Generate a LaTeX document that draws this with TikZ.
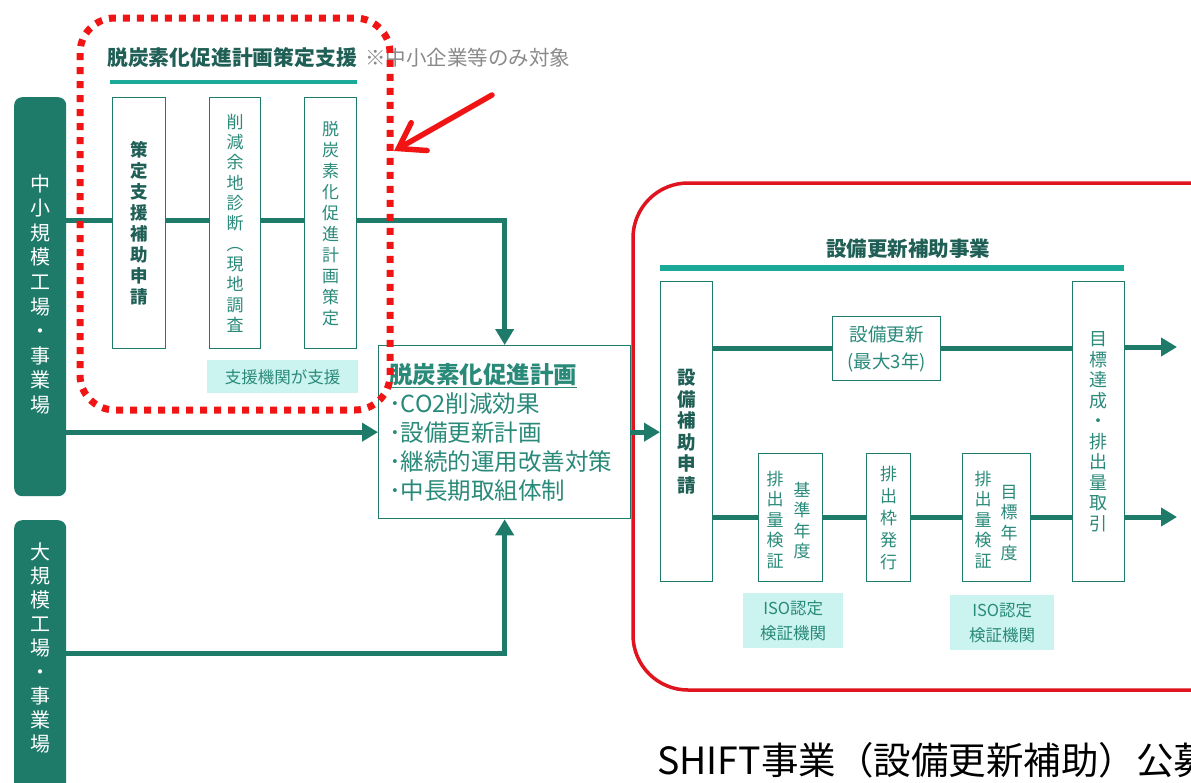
\documentclass[tikz,border=0pt]{standalone}
\usepackage{fontspec}
\setmainfont{Noto Sans CJK JP}
\usetikzlibrary{arrows.meta}
\definecolor{tdark}{HTML}{1E7B6A}
\definecolor{taccent}{HTML}{1BAA98}
\definecolor{ttext}{HTML}{2A8A7A}
\definecolor{tbold}{HTML}{1F5F55}
\definecolor{lcyan}{HTML}{CBF3EF}
\definecolor{redline}{HTML}{F01414}
\definecolor{redframe}{HTML}{E0141E}
\definecolor{notegray}{HTML}{8A8A8A}
\pgfdeclarelayer{bg}
\pgfsetlayers{bg,main}
\tikzset{
 sidebar/.style={fill=tdark, rounded corners=8pt, inner sep=0pt, anchor=north west, minimum width=52pt},
 sidetext/.style={text=white, font=\fontsize{20}{24.6}\selectfont, align=center, inner sep=0pt, anchor=north},
 stepbox/.style={draw=tdark, line width=1.3pt, fill=white, inner sep=0pt, anchor=north west, align=center, text=ttext},
 vtext/.style={font=\fontsize{17}{21}\selectfont},
 vcol/.style={inner sep=0pt, anchor=north, align=center, text=ttext, font=\fontsize{17}{20.5}\selectfont},
 flow/.style={draw=tdark, line width=5pt},
 flowarrow/.style={flow, -{Triangle[length=16pt,width=18pt]}},
 cyanbox/.style={fill=lcyan, inner sep=0pt, anchor=north west, align=center, text=ttext, font=\fontsize{16.5}{25}\selectfont},
}
\begin{document}
\begin{tikzpicture}[x=1pt,y=-1pt]
\clip (0,0) rectangle (1191,782);
\begin{pgfonlayer}{bg}
\fill[white] (0,0) rectangle (1191,782);
\end{pgfonlayer}

% side bars
\node[sidebar, minimum height=399pt] (sme) at (14,97) {};
\node[sidetext] (smetext) at (40,174) {中\\小\\規\\模\\工\\場\\・\\事\\業\\場};
\node[sidebar, minimum height=300pt] (large) at (14,520) {};
\node[sidetext, font=\fontsize{20}{24}\selectfont] (largetext) at (40,543) {大\\規\\模\\工\\場\\・\\事\\業\\場};

% left support section
\node[anchor=west, inner sep=0pt, font=\bfseries\fontsize{20.8}{21}\selectfont, text=tbold] (t1) at (107,58) {脱炭素化促進計画策定支援};
\node[anchor=west, inner sep=0pt, font=\fontsize{20.5}{21}\selectfont, text=notegray] (t1note) at (365,58) {※中小企業等のみ対象};
\draw[taccent, line width=4pt] (110,82) -- (357,82);

\node[stepbox, minimum width=53pt, minimum height=251pt, font=\bfseries\fontsize{17.5}{21}\selectfont, text=tbold] (s1) at (112,97) {策\\定\\支\\援\\補\\助\\申\\請};
\node[stepbox, minimum width=51pt, minimum height=251pt, font=\fontsize{17}{20.3}\selectfont] (s2) at (209,97) {削\\減\\余\\地\\診\\断\\︵\\現\\地\\調\\査};
\node[stepbox, minimum width=52pt, minimum height=251pt, vtext] (s3) at (304,97) {脱\\炭\\素\\化\\促\\進\\計\\画\\策\\定};
\node[cyanbox, minimum width=151pt, minimum height=33pt] (helper) at (207,360) {支援機関が支援};

% plan box
\node[stepbox, minimum width=252pt, minimum height=173pt] (plan) at (378,345) {};
\node[anchor=north west, inner sep=0pt, align=left, text=ttext, font=\fontsize{23.5}{29}\selectfont] (plantext) at (389,363)
 {{\bfseries\underline{脱炭素化促進計画}}\\･CO2削減効果\\･設備更新計画\\･継続的運用改善対策\\･中長期取組体制};

% flows left
\begin{pgfonlayer}{bg}
\draw[flowarrow] (sme.east |- 0,220) -| (plan.north);
\end{pgfonlayer}
\draw[flowarrow] (sme.east |- plan.west) -- (plan.west);
\draw[flowarrow] (large.east |- 0,653) -| (plan.south);

% red dotted frame and arrow
\draw[redline, line width=7pt, dash pattern=on 7pt off 7pt, rounded corners=35pt] (80,18) rectangle (390,410);
\coordinate (rs) at (492,95);
\coordinate (re) at (394,151);
\draw[redline, line width=5.5pt, line cap=round, -{Straight Barb[length=24pt,width=32pt,line cap=round]}] (rs) -- (re);

% right section
\draw[redframe, line width=3.5pt, rounded corners=55pt] (633,183) rectangle (1250,690);
\node[inner sep=0pt, font=\bfseries\fontsize{20.5}{21}\selectfont, text=tbold] (t3) at (908,249) {設備更新補助事業};
\draw[taccent, line width=6pt] (660,268) -- (1124,268);

\node[stepbox, minimum width=52pt, minimum height=300pt, font=\bfseries\fontsize{18.5}{21.5}\selectfont, text=tbold] (apply) at (660,281) {設\\備\\補\\助\\申\\請};
\node[stepbox, minimum width=52pt, minimum height=300pt, font=\fontsize{18}{20.5}\selectfont] (goal) at (1072,281) {目\\標\\達\\成\\・\\排\\出\\量\\取\\引};
\node[stepbox, minimum width=108pt, minimum height=64pt, font=\fontsize{18.5}{27}\selectfont] (renew) at (832,316) {設備更新\\(最大3年)};

\node[stepbox, minimum width=64pt, minimum height=128pt] (base) at (758,453) {};
\node[vcol] (baseL) at (775,471) {排\\出\\量\\検\\証};
\node[vcol] (baseR) at (802,482) {基\\準\\年\\度};
\node[stepbox, minimum width=44pt, minimum height=128pt, font=\fontsize{17}{22}\selectfont] (issue) at (866,453) {排\\出\\枠\\発\\行};
\node[stepbox, minimum width=68pt, minimum height=128pt] (target) at (962,453) {};
\node[vcol] (targetL) at (983,471) {排\\出\\量\\検\\証};
\node[vcol] (targetR) at (1009,485) {目\\標\\年\\度};

\node[cyanbox, minimum width=100pt, minimum height=55pt] (iso1) at (743,593) {ISO認定\\検証機関};
\node[cyanbox, minimum width=104pt, minimum height=55pt] (iso2) at (950,595) {ISO認定\\検証機関};

\coordinate (outA) at (1177,347);
\coordinate (outB) at (1177,517);
\begin{pgfonlayer}{bg}
\draw[flow] (apply.east |- renew.west) -- (renew.west);
\draw[flow] (renew.east) -- (goal.west |- renew.east);
\draw[flow] (apply.east |- 0,517) -- (goal.west |- 0,517);
\end{pgfonlayer}
\draw[flowarrow] (goal.east |- outA) -- (outA);
\draw[flowarrow] (goal.east |- outB) -- (outB);
\draw[flowarrow] (plan.east) -- (apply.west |- plan.east);

% caption
\node[anchor=west, inner sep=0pt, font=\fontsize{37.5}{38}\selectfont, text=black] (caption) at (657,760) {SHIFT事業（設備更新補助）公募};
\end{tikzpicture}
\end{document}
